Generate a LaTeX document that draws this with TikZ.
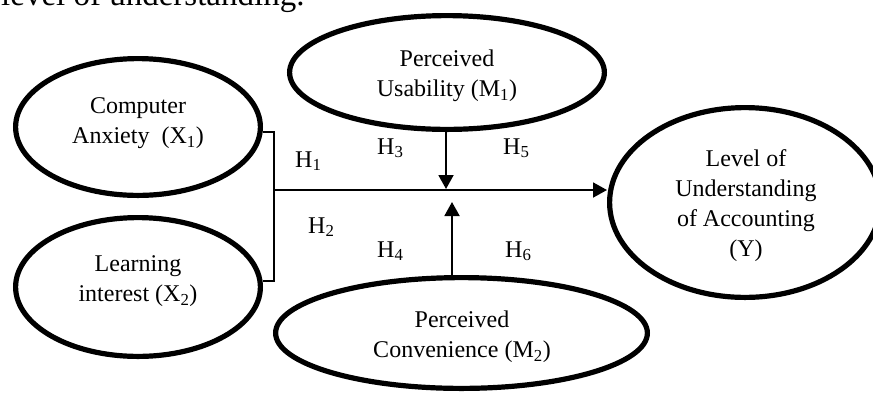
\documentclass[tikz,border=0pt]{standalone}
\usepackage{fontspec}
\setmainfont{Liberation Serif}
\usetikzlibrary{shapes.geometric,arrows.meta}
\tikzset{
  oval/.style={draw, ellipse, line width=5.2pt, inner sep=0pt},
  ovaltext/.style={align=center, inner sep=0pt, font=\fontsize{24}{30}\selectfont},
  hlabel/.style={anchor=base west, inner sep=0pt, font=\fontsize{24}{30}\selectfont},
  conn/.style={line width=1.9pt},
  arr/.style={conn, -{Triangle[length=14pt,width=15pt]}}
}
\begin{document}
\begin{tikzpicture}[x=1pt,y=-1pt]
\useasboundingbox (0,0) rectangle (873,392);
\clip (0,0) rectangle (873,392);
% fragment of running text at the top
\node[anchor=base west, inner sep=0pt, font=\fontsize{33}{36}\selectfont] (top) at (1,5) {level of understanding.};
% ellipses
\node[oval, minimum width=244.8pt, minimum height=136.8pt] (x1) at (138,127) {};
\node[oval, minimum width=244.8pt, minimum height=138.8pt] (x2) at (138,287) {};
\node[oval, minimum width=314.8pt, minimum height=113.8pt] (m1) at (447,72.5) {};
\node[oval, minimum width=371.8pt, minimum height=110.8pt] (m2) at (461.5,333) {};
\node[oval, minimum width=270.8pt, minimum height=189.8pt] (y) at (745,202.5) {};
% texts
\node[ovaltext] (x1t) at (138,123) {Computer\\Anxiety\ \ (X\textsubscript{1})};
\node[ovaltext] (x2t) at (138,281) {Learning\\interest (X\textsubscript{2})};
\node[ovaltext] (m1t) at (447,76) {Perceived\\Usability (M\textsubscript{1})};
\node[ovaltext] (m2t) at (462,337) {Perceived\\Convenience (M\textsubscript{2})};
\node[ovaltext] (yt) at (746,206) {Level of\\Understanding\\of Accounting\\(Y)};
% bracket
\coordinate (bt) at (274,132);
\coordinate (bb) at (274,281);
\coordinate (bm) at (274,190);
\draw[conn] (x1.east |- bt) -- (bt) -- (bb) -- (x2.east |- bb);
\draw[arr] (bm) -- (bm -| y.west);
% moderator arrows
\coordinate (a1) at (446,189);
\coordinate (a2) at (452,202);
\draw[arr] (m1.south -| a1) -- (a1);
\draw[arr] (m2.north -| a2) -- (a2);
% hypothesis labels
\node[hlabel] (h1) at (295,167) {H\textsubscript{1}};
\node[hlabel] (h3) at (377,154) {H\textsubscript{3}};
\node[hlabel] (h5) at (503,154) {H\textsubscript{5}};
\node[hlabel] (h2) at (308,233) {H\textsubscript{2}};
\node[hlabel] (h4) at (377,257) {H\textsubscript{4}};
\node[hlabel] (h6) at (505,257) {H\textsubscript{6}};
\end{tikzpicture}
\end{document}
